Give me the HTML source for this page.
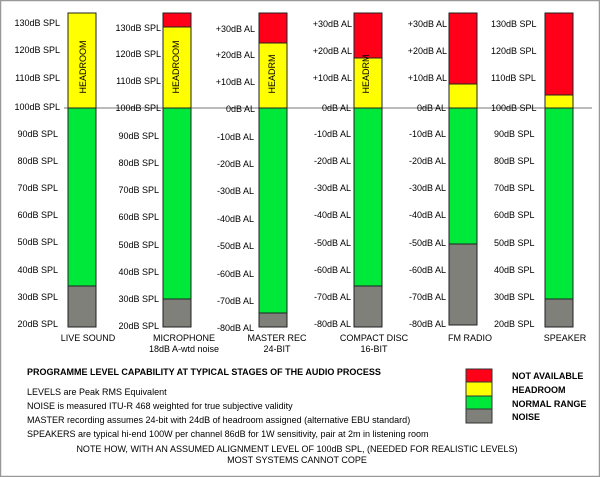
<!DOCTYPE html>
<html><head><meta charset="utf-8"><style>
html,body{margin:0;padding:0;background:#fff}
svg{display:block}
text{font-family:"Liberation Sans",sans-serif;font-size:9px;fill:#000}
</style></head><body>
<svg width="600" height="477" viewBox="0 0 600 477" xmlns="http://www.w3.org/2000/svg">
<rect x="0.5" y="0.5" width="599" height="476" fill="#fff" stroke="#999" stroke-width="1.5"/>
<line x1="64" y1="108" x2="592" y2="108" stroke="#777" stroke-width="1"/>
<g stroke="#222" stroke-width="1">
<rect x="68" y="13" width="28" height="95" fill="#ffff00"/>
<rect x="68" y="108" width="28" height="178" fill="#00e83a"/>
<rect x="68" y="286" width="28" height="41" fill="#7e8079"/>
<rect x="163" y="13" width="28" height="14" fill="#ff0018"/>
<rect x="163" y="27" width="28" height="81" fill="#ffff00"/>
<rect x="163" y="108" width="28" height="191" fill="#00e83a"/>
<rect x="163" y="299" width="28" height="28" fill="#7e8079"/>
<rect x="259" y="13" width="28" height="30" fill="#ff0018"/>
<rect x="259" y="43" width="28" height="65" fill="#ffff00"/>
<rect x="259" y="108" width="28" height="205" fill="#00e83a"/>
<rect x="259" y="313" width="28" height="14" fill="#7e8079"/>
<rect x="354" y="13" width="28" height="45" fill="#ff0018"/>
<rect x="354" y="58" width="28" height="50" fill="#ffff00"/>
<rect x="354" y="108" width="28" height="178" fill="#00e83a"/>
<rect x="354" y="286" width="28" height="41" fill="#7e8079"/>
<rect x="449" y="13" width="28" height="71" fill="#ff0018"/>
<rect x="449" y="84" width="28" height="24" fill="#ffff00"/>
<rect x="449" y="108" width="28" height="136" fill="#00e83a"/>
<rect x="449" y="244" width="28" height="81" fill="#7e8079"/>
<rect x="545" y="13" width="28" height="82" fill="#ff0018"/>
<rect x="545" y="95" width="28" height="13" fill="#ffff00"/>
<rect x="545" y="108" width="28" height="191" fill="#00e83a"/>
<rect x="545" y="299" width="28" height="28" fill="#7e8079"/>
</g>
<text transform="translate(86,67) rotate(-90)" text-anchor="middle" font-size="11">HEADROOM</text>
<text transform="translate(179,67) rotate(-90)" text-anchor="middle" font-size="11">HEADROOM</text>
<text transform="translate(275,74) rotate(-90)" text-anchor="middle" font-size="11">HEADRM</text>
<text transform="translate(369,74) rotate(-90)" text-anchor="middle" font-size="11">HEADRM</text>
<g text-anchor="end">
<text x="60" y="26">130dB SPL</text><text x="60" y="53">120dB SPL</text><text x="60" y="81">110dB SPL</text><text x="60" y="110">100dB SPL</text>
<text x="58" y="137">90dB SPL</text><text x="58" y="164">80dB SPL</text><text x="58" y="191">70dB SPL</text><text x="58" y="218">60dB SPL</text>
<text x="58" y="245">50dB SPL</text><text x="58" y="273">40dB SPL</text><text x="58" y="300">30dB SPL</text><text x="58" y="327">20dB SPL</text>
<text x="161" y="31">130dB SPL</text><text x="161" y="57">120dB SPL</text><text x="161" y="84">110dB SPL</text><text x="161" y="111">100dB SPL</text>
<text x="159" y="139">90dB SPL</text><text x="159" y="166">80dB SPL</text><text x="159" y="193">70dB SPL</text><text x="159" y="220">60dB SPL</text>
<text x="159" y="248">50dB SPL</text><text x="159" y="275">40dB SPL</text><text x="159" y="302">30dB SPL</text><text x="159" y="329">20dB SPL</text>
<text x="255" y="32">+30dB AL</text><text x="255" y="58">+20dB AL</text><text x="255" y="85">+10dB AL</text><text x="255" y="112">0dB AL</text>
<text x="254" y="140">-10dB AL</text><text x="254" y="167">-20dB AL</text><text x="254" y="194">-30dB AL</text><text x="254" y="222">-40dB AL</text>
<text x="254" y="249">-50dB AL</text><text x="254" y="277">-60dB AL</text><text x="254" y="304">-70dB AL</text><text x="254" y="331">-80dB AL</text>
<text x="352" y="27">+30dB AL</text><text x="352" y="54">+20dB AL</text><text x="352" y="81">+10dB AL</text><text x="351" y="111">0dB AL</text>
<text x="351" y="137">-10dB AL</text><text x="351" y="164">-20dB AL</text><text x="351" y="191">-30dB AL</text><text x="351" y="218">-40dB AL</text>
<text x="351" y="246">-50dB AL</text><text x="351" y="273">-60dB AL</text><text x="351" y="300">-70dB AL</text><text x="351" y="327">-80dB AL</text>
<text x="447" y="27">+30dB AL</text><text x="447" y="54">+20dB AL</text><text x="447" y="81">+10dB AL</text><text x="446" y="111">0dB AL</text>
<text x="446" y="137">-10dB AL</text><text x="446" y="164">-20dB AL</text><text x="446" y="191">-30dB AL</text><text x="446" y="218">-40dB AL</text>
<text x="446" y="246">-50dB AL</text><text x="446" y="273">-60dB AL</text><text x="446" y="300">-70dB AL</text><text x="446" y="327">-80dB AL</text>
</g>
<g text-anchor="start">
<text x="491" y="27">130dB SPL</text><text x="491" y="54">120dB SPL</text><text x="491" y="81">110dB SPL</text><text x="491" y="111">100dB SPL</text>
<text x="494" y="137">90dB SPL</text><text x="494" y="164">80dB SPL</text><text x="494" y="191">70dB SPL</text><text x="494" y="218">60dB SPL</text>
<text x="494" y="246">50dB SPL</text><text x="494" y="273">40dB SPL</text><text x="494" y="300">30dB SPL</text><text x="494" y="327">20dB SPL</text>
</g>
<g text-anchor="middle">
<text x="88" y="341">LIVE SOUND</text>
<text x="184" y="341">MICROPHONE</text><text x="184" y="352">18dB A-wtd noise</text>
<text x="277" y="341">MASTER REC</text><text x="277" y="352">24-BIT</text>
<text x="374" y="341">COMPACT DISC</text><text x="374" y="352">16-BIT</text>
<text x="470" y="341">FM RADIO</text>
<text x="565" y="341">SPEAKER</text>
</g>
<text x="27" y="375" font-weight="bold" font-size="10.5">PROGRAMME LEVEL CAPABILITY AT TYPICAL STAGES OF THE AUDIO PROCESS</text>
<text x="27" y="395" font-size="8.5">LEVELS are Peak RMS Equivalent</text>
<text x="27" y="409" font-size="8.5">NOISE is measured ITU-R 468 weighted for true subjective validity</text>
<text x="27" y="423" font-size="8.5">MASTER recording assumes 24-bit with 24dB of headroom assigned  (alternative EBU standard)</text>
<text x="27" y="437" font-size="8.5">SPEAKERS are typical hi-end 100W per channel 86dB for 1W sensitivity, pair at 2m in listening room</text>
<text x="297" y="452" text-anchor="middle" font-size="8.5">NOTE HOW, WITH AN ASSUMED ALIGNMENT LEVEL OF 100dB SPL, (NEEDED FOR REALISTIC LEVELS)</text>
<text x="297" y="463" text-anchor="middle" font-size="8.5">MOST SYSTEMS CANNOT COPE</text>
<g stroke="#333" stroke-width="1">
<rect x="466" y="369" width="26" height="13" fill="#ff0018"/>
<rect x="466" y="382" width="26" height="14" fill="#ffff00"/>
<rect x="466" y="396" width="26" height="13" fill="#00e83a"/>
<rect x="466" y="409" width="26" height="14" fill="#7e8079"/>
</g>
<g font-weight="bold">
<text x="512" y="379" style="font-weight:bold">NOT AVAILABLE</text>
<text x="512" y="393" style="font-weight:bold">HEADROOM</text>
<text x="512" y="407" style="font-weight:bold">NORMAL RANGE</text>
<text x="512" y="420" style="font-weight:bold">NOISE</text>
</g>
</svg>
</body></html>
